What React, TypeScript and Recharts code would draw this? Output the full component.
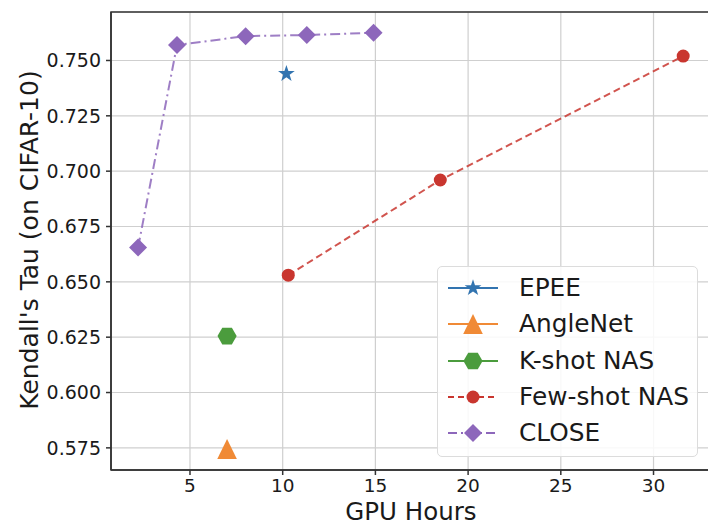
import React from "react";
import {
  ComposedChart,
  Line,
  XAxis,
  YAxis,
  CartesianGrid,
  Legend,
  ReferenceArea,
} from "recharts";

// GPU hours vs Kendall's tau, one pair of arrays per method
const epeeHours = [10.2];
const epeeTau = [0.744];
const angleNetHours = [7.0];
const angleNetTau = [0.5745];
const kShotHours = [7.0];
const kShotTau = [0.6255];
const fewShotHours = [10.3, 18.5, 31.6];
const fewShotTau = [0.653, 0.696, 0.752];
const closeHours = [2.2, 4.3, 8.0, 11.3, 14.9];
const closeTau = [0.6655, 0.757, 0.761, 0.7615, 0.7625];

const xTicks = [5, 10, 15, 20, 25, 30];
const yTicks = [0.575, 0.6, 0.625, 0.65, 0.675, 0.7, 0.725, 0.75];

const X_DOMAIN = [0.74, 33.1];
const Y_DOMAIN = [0.565, 0.7719];

const FONT = "DejaVu Sans, sans-serif";

type Shape = "star" | "triangle" | "hexagon" | "circle" | "diamond";

const toPoints = (xs: number[], ys: number[]) =>
  xs.map((x, i) => ({ x, y: ys[i] }));

const series = [
  { name: "EPEE", color: "#3274b0", shape: "star" as Shape, dash: undefined, legendDash: undefined, data: toPoints(epeeHours, epeeTau) },
  { name: "AngleNet", color: "#f08a36", shape: "triangle" as Shape, dash: undefined, legendDash: undefined, data: toPoints(angleNetHours, angleNetTau) },
  { name: "K-shot NAS", color: "#4b9c3d", shape: "hexagon" as Shape, dash: undefined, legendDash: undefined, data: toPoints(kShotHours, kShotTau) },
  { name: "Few-shot NAS", color: "#c9362f", shape: "circle" as Shape, dash: "7 4", legendDash: "6 4", data: toPoints(fewShotHours, fewShotTau) },
  { name: "CLOSE", color: "#8d67bb", shape: "diamond" as Shape, dash: "10 4 2 4", legendDash: "9 4 2 4", data: toPoints(closeHours, closeTau) },
];

const Marker = ({ shape, cx, cy, color }: { shape: Shape; cx: number; cy: number; color: string }) => {
  if (shape === "circle") return <circle cx={cx} cy={cy} r={6.5} fill={color} />;
  let pts: [number, number][] = [];
  if (shape === "star") {
    for (let k = 0; k < 10; k++) {
      const r = k % 2 === 0 ? 8.8 : 3.4;
      const a = -Math.PI / 2 + (k * Math.PI) / 5;
      pts.push([cx + r * Math.cos(a), cy + r * Math.sin(a)]);
    }
  } else if (shape === "triangle") {
    pts = [[cx, cy - 10], [cx - 9.8, cy + 10], [cx + 9.8, cy + 10]];
  } else if (shape === "hexagon") {
    for (let k = 0; k < 6; k++) {
      const a = (k * Math.PI) / 3;
      pts.push([cx + 9.6 * Math.cos(a), cy + 9.6 * Math.sin(a)]);
    }
  } else {
    pts = [[cx, cy - 9], [cx + 9, cy], [cx, cy + 9], [cx - 9, cy]];
  }
  return <polygon points={pts.map((p) => p.join(",")).join(" ")} fill={color} />;
};

const LegendBox = () => (
  <div
    style={{
      position: "relative",
      width: 261,
      height: 191,
      boxSizing: "border-box",
      border: "1px solid #dcdcdc",
      borderRadius: 5,
      background: "rgba(255,255,255,0.85)",
      fontFamily: FONT,
      fontSize: 24.8,
      color: "#1a1a1a",
    }}
  >
    {series.map((s, i) => (
      <div key={s.name} style={{ position: "absolute", left: 0, top: 21 + 36.3 * i - 15, height: 30, width: "100%" }}>
        <svg width={52} height={30} style={{ position: "absolute", left: 9, top: 0 }}>
          <line x1={1} x2={51} y1={15} y2={15} stroke={s.color} strokeWidth={2} strokeDasharray={s.legendDash} />
          <Marker shape={s.shape} cx={26} cy={15} color={s.color} />
        </svg>
        <span style={{ position: "absolute", left: 81, top: 0, lineHeight: "30px", whiteSpace: "nowrap" }}>{s.name}</span>
      </div>
    ))}
  </div>
);

const YLabel = () => (
  <text
    x={29}
    y={240}
    transform="rotate(-90 29 240)"
    textAnchor="middle"
    dominantBaseline="central"
    fontFamily={FONT}
    fontSize={25}
    fill="#1a1a1a"
  >
    Kendall's Tau (on CIFAR-10)
  </text>
);

export default function App() {
  return (
    <div style={{ position: "absolute", left: 0, top: 0, width: 708, height: 525, overflow: "hidden", background: "#fff" }}>
      <ComposedChart width={720} height={525} margin={{ top: 12, right: 9, bottom: 0, left: 0 }}>
        <CartesianGrid stroke="#cfcfcf" strokeWidth={1.2} />
        <XAxis
          type="number"
          dataKey="x"
          domain={X_DOMAIN}
          ticks={xTicks}
          allowDataOverflow
          height={55}
          tickSize={5}
          tickMargin={4}
          stroke="#333"
          strokeWidth={1.5}
          tick={{ fontFamily: FONT, fontSize: 18.5, fill: "#1a1a1a" }}
          label={{ value: "GPU Hours", position: "insideBottom", offset: 5, style: { fontFamily: FONT, fontSize: 24.5, fill: "#1a1a1a" } }}
        />
        <YAxis
          type="number"
          dataKey="y"
          domain={Y_DOMAIN}
          ticks={yTicks}
          allowDataOverflow
          width={111}
          tickSize={5}
          tickMargin={5}
          stroke="#333"
          strokeWidth={1.5}
          tickFormatter={(v: number) => v.toFixed(3)}
          tick={{ fontFamily: FONT, fontSize: 19, fill: "#1a1a1a" }}
          label={<YLabel />}
        />
        <ReferenceArea x1={X_DOMAIN[0]} x2={X_DOMAIN[1]} y1={Y_DOMAIN[0]} y2={Y_DOMAIN[1]} fill="none" stroke="#333" strokeWidth={1.5} />
        {series.map((s) => (
          <Line
            key={s.name}
            name={s.name}
            data={s.data}
            dataKey="y"
            type="linear"
            stroke={s.color}
            strokeWidth={2}
            strokeOpacity={0.85}
            strokeDasharray={s.dash}
            isAnimationActive={false}
            dot={(p: any) => <Marker key={`${s.name}-${p.index}`} shape={s.shape} cx={p.cx} cy={p.cy} color={s.color} />}
            activeDot={false}
          />
        ))}
        <Legend
          layout="vertical"
          align="center"
          verticalAlign="middle"
          content={() => <LegendBox />}
          wrapperStyle={{ position: "absolute", left: 437, top: 266, width: 261, height: 191 }}
        />
      </ComposedChart>
    </div>
  );
}
